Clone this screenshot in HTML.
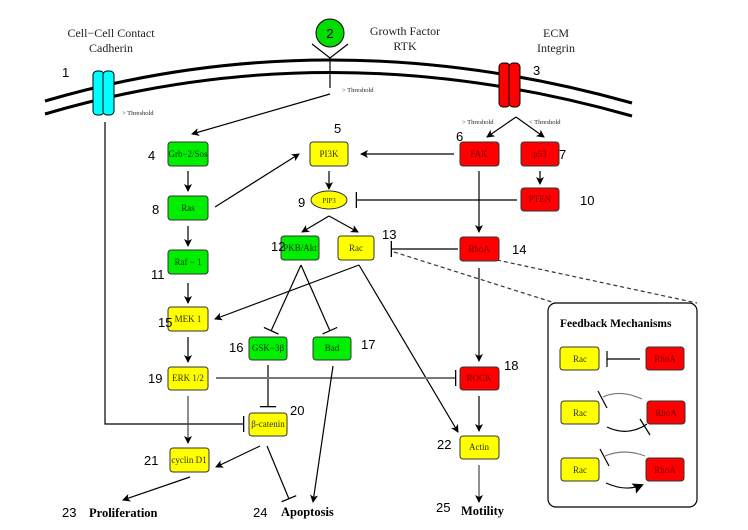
<!DOCTYPE html>
<html><head><meta charset="utf-8"><style>
html,body{margin:0;padding:0;background:#fff;}
svg{display:block;}
.n{font-family:"Liberation Serif",serif;font-size:9px;text-anchor:middle;}
.num{font-family:"Liberation Sans",sans-serif;font-size:13px;}
.lab{font-family:"Liberation Serif",serif;font-size:12px;text-anchor:middle;fill:#222;}
.th{font-family:"Liberation Serif",serif;font-size:6.5px;fill:#223;}
.big{font-family:"Liberation Serif",serif;font-size:12.5px;font-weight:bold;}
</style></head><body>
<svg width="748" height="530" viewBox="0 0 748 530" xmlns="http://www.w3.org/2000/svg">
<defs>
<marker id="a" markerWidth="8" markerHeight="8" refX="7" refY="4" orient="auto" markerUnits="userSpaceOnUse"><path d="M0,0 L8,4 L0,8 L2,4 z" fill="#000"/></marker>
<marker id="a2" markerWidth="11" markerHeight="11" refX="9" refY="5.5" orient="auto" markerUnits="userSpaceOnUse"><path d="M0,0 L11,5.5 L0,11 L2,5.5 z" fill="#000"/></marker>
<marker id="t" markerWidth="2" markerHeight="16" refX="1" refY="8" orient="auto" markerUnits="userSpaceOnUse"><rect x="0" y="0" width="1.3" height="16" fill="#000"/></marker>
<marker id="tg" markerWidth="2" markerHeight="16" refX="1" refY="8" orient="auto" markerUnits="userSpaceOnUse"><rect x="0" y="0" width="1.3" height="16" fill="#000"/></marker>
</defs>
<path d="M45,101 Q330,18 632,103" fill="none" stroke="#000" stroke-width="3"/>
<path d="M45,114 Q330,30 632,116" fill="none" stroke="#000" stroke-width="3"/>
<rect x="93" y="71" width="11" height="44" rx="4" fill="#00ffff" stroke="#000"/>
<rect x="103" y="71" width="11" height="44" rx="4" fill="#00ffff" stroke="#000"/>
<rect x="499" y="63" width="11" height="44" rx="4" fill="#ff0000" stroke="#000"/>
<rect x="509" y="63" width="11" height="44" rx="4" fill="#ff0000" stroke="#000"/>
<circle cx="330" cy="33" r="14" fill="#00dd00" stroke="#000"/>
<text x="330" y="38" class="num" text-anchor="middle">2</text>
<path d="M312,44 L330,58 L348,44 M330,58 L330,88" fill="none" stroke="#000" stroke-width="1.2"/>
<text x="111" y="37" class="lab">Cell−Cell Contact</text>
<text x="111" y="52" class="lab">Cadherin</text>
<text x="405" y="35" class="lab">Growth Factor</text>
<text x="405" y="50" class="lab">RTK</text>
<text x="556" y="37" class="lab">ECM</text>
<text x="556" y="52" class="lab">Integrin</text>
<text x="62" y="77" class="num">1</text>
<text x="533" y="75" class="num">3</text>
<text x="122" y="115" class="th">&gt; Threshold</text>
<text x="342" y="92" class="th">&gt; Threshold</text>
<text x="462" y="124" class="th">&gt; Threshold</text>
<text x="529" y="124" class="th">&lt; Threshold</text>

<g stroke="#000" stroke-width="1.2" fill="none">
<line x1="330" y1="94" x2="192" y2="134" marker-end="url(#a)"/>
<polyline points="105,122 105,424 244,424" marker-end="url(#t)"/>
<line x1="516" y1="117" x2="487" y2="137" marker-end="url(#a)"/>
<line x1="516" y1="117" x2="544" y2="137" marker-end="url(#a)"/>
<line x1="454" y1="154" x2="361" y2="154" marker-end="url(#a)"/>
<line x1="540" y1="171" x2="540" y2="184" marker-end="url(#a)"/>
<line x1="517" y1="200" x2="356" y2="200" marker-end="url(#t)"/>
<line x1="479" y1="171" x2="479" y2="232" marker-end="url(#a)"/>
<line x1="458" y1="249" x2="391" y2="249" marker-end="url(#t)"/>
<line x1="479" y1="268" x2="479" y2="361" marker-end="url(#a)"/>
<line x1="188" y1="171" x2="188" y2="191" marker-end="url(#a)"/>
<line x1="188" y1="226" x2="188" y2="246" marker-end="url(#a)"/>
<line x1="188" y1="283" x2="188" y2="303" marker-end="url(#a)"/>
<line x1="188" y1="337" x2="188" y2="362" marker-end="url(#a)"/>
<line x1="188" y1="396" x2="188" y2="443" marker-end="url(#a)" stroke="#444"/>
<line x1="215" y1="207" x2="299" y2="154" marker-end="url(#a)"/>
<line x1="329" y1="171" x2="329" y2="189" marker-end="url(#a)"/>
<line x1="329" y1="216" x2="302" y2="232" marker-end="url(#a)"/>
<line x1="329" y1="216" x2="358" y2="232" marker-end="url(#a)"/>
<line x1="359" y1="265" x2="215" y2="319" marker-end="url(#a)"/>
<line x1="359" y1="265" x2="458" y2="432" marker-end="url(#a)"/>
<line x1="301" y1="265" x2="271" y2="331" marker-end="url(#t)"/>
<line x1="301" y1="265" x2="330" y2="331" marker-end="url(#t)"/>
<line x1="268" y1="365" x2="268" y2="407" marker-end="url(#t)"/>
<line x1="216" y1="378" x2="456" y2="378" stroke="#777" stroke-width="2" marker-end="url(#tg)"/>
<line x1="260" y1="446" x2="216" y2="467" marker-end="url(#a)"/>
<line x1="267" y1="446" x2="289" y2="499" marker-end="url(#t)"/>
<line x1="333" y1="366" x2="313" y2="502" marker-end="url(#a)"/>
<line x1="190" y1="477" x2="123" y2="500" marker-end="url(#a)"/>
<line x1="479" y1="396" x2="479" y2="431" marker-end="url(#a)"/>
<line x1="479" y1="465" x2="479" y2="502" marker-end="url(#a)" stroke="#444"/>
<line x1="394" y1="252" x2="555" y2="303" stroke-dasharray="4,3" stroke="#333"/>
<line x1="497" y1="260" x2="697" y2="303" stroke-dasharray="4,3" stroke="#333"/>
</g>

<g stroke="#333" stroke-width="1">
<rect x="168" y="142" width="40" height="24" rx="3" fill="#00ee00"/>
<rect x="168" y="196" width="40" height="24" rx="3" fill="#00ee00"/>
<rect x="168" y="250" width="40" height="24" rx="3" fill="#00ee00"/>
<rect x="168" y="307" width="40" height="24" rx="3" fill="#ffff00"/>
<rect x="168" y="367" width="40" height="23" rx="3" fill="#ffff00"/>
<rect x="170" y="448" width="39" height="24" rx="3" fill="#ffff00"/>
<rect x="310" y="142" width="38" height="24" rx="3" fill="#ffff00"/>
<ellipse cx="329" cy="200" rx="18" ry="9" fill="#ffff00"/>
<rect x="281" y="236" width="38" height="24" rx="3" fill="#00ee00"/>
<rect x="338" y="236" width="36" height="24" rx="3" fill="#ffff00"/>
<rect x="249" y="337" width="38" height="23" rx="3" fill="#00ee00"/>
<rect x="313" y="337" width="38" height="23" rx="3" fill="#00ee00"/>
<rect x="249" y="413" width="38" height="23" rx="3" fill="#ffff00"/>
<rect x="460" y="142" width="39" height="24" rx="3" fill="#ff0000"/>
<rect x="521" y="142" width="38" height="24" rx="3" fill="#ff0000"/>
<rect x="521" y="188" width="38" height="23" rx="3" fill="#ff0000"/>
<rect x="460" y="237" width="39" height="24" rx="3" fill="#ff0000"/>
<rect x="460" y="367" width="39" height="23" rx="3" fill="#ff0000"/>
<rect x="460" y="436" width="39" height="23" rx="3" fill="#ffff00"/>
</g>
<g class="n">
<text x="188" y="157" fill="#030">Grb−2/Sos</text>
<text x="188" y="211" fill="#030">Ras</text>
<text x="188" y="265" fill="#030">Raf − 1</text>
<text x="188" y="322" fill="#330">MEK 1</text>
<text x="188" y="381" fill="#330">ERK 1/2</text>
<text x="189" y="463" fill="#330">cyclin D1</text>
<text x="329" y="157" fill="#330">PI3K</text>
<text x="329" y="203" fill="#330" style="font-size:7px">PIP3</text>
<text x="300" y="251" fill="#030">PKB/Akt</text>
<text x="356" y="251" fill="#330">Rac</text>
<text x="268" y="351" fill="#030">GSK−3β</text>
<text x="332" y="351" fill="#030">Bad</text>
<text x="268" y="427" fill="#330">β-catenin</text>
<text x="479" y="157" fill="#700">FAK</text>
<text x="540" y="157" fill="#700">p53</text>
<text x="540" y="202" fill="#700">PTEN</text>
<text x="479" y="252" fill="#700">RhoA</text>
<text x="479" y="381" fill="#700">ROCK</text>
<text x="479" y="450" fill="#330">Actin</text>
</g>
<g class="num">
<text x="148" y="160">4</text><text x="334" y="133">5</text><text x="456" y="141">6</text>
<text x="559" y="159">7</text><text x="152" y="214">8</text><text x="298" y="207">9</text>
<text x="580" y="205">10</text><text x="151" y="279">11</text><text x="271" y="251">12</text>
<text x="382" y="239">13</text><text x="512" y="254">14</text><text x="158" y="327">15</text>
<text x="229" y="352">16</text><text x="361" y="349">17</text><text x="504" y="370">18</text>
<text x="148" y="383">19</text><text x="290" y="415">20</text><text x="144" y="465">21</text>
<text x="437" y="449">22</text><text x="62" y="517">23</text><text x="253" y="517">24</text>
<text x="436" y="512">25</text>
</g>
<text x="89" y="517" class="big">Proliferation</text>
<text x="281" y="516" class="big">Apoptosis</text>
<text x="461" y="515" class="big">Motility</text>

<rect x="548" y="303" width="149" height="204" rx="8" fill="#fff" stroke="#000" stroke-width="1.2"/>
<text x="560" y="327" class="big" style="font-size:11.5px">Feedback Mechanisms</text>
<g stroke="#333" stroke-width="1">
<rect x="560" y="347" width="39" height="23" rx="3" fill="#ffff00"/>
<rect x="646" y="347" width="38" height="23" rx="3" fill="#ff0000"/>
<rect x="561" y="401" width="38" height="23" rx="3" fill="#ffff00"/>
<rect x="647" y="401" width="38" height="23" rx="3" fill="#ff0000"/>
<rect x="561" y="458" width="38" height="23" rx="3" fill="#ffff00"/>
<rect x="646" y="458" width="38" height="23" rx="3" fill="#ff0000"/>
</g>
<g class="n">
<text x="580" y="362" fill="#330">Rac</text><text x="665" y="362" fill="#700">RhoA</text>
<text x="580" y="416" fill="#330">Rac</text><text x="666" y="416" fill="#700">RhoA</text>
<text x="580" y="473" fill="#330">Rac</text><text x="665" y="473" fill="#700">RhoA</text>
</g>
<g fill="none" stroke="#000" stroke-width="1.2">
<line x1="640" y1="359" x2="607" y2="359"/><line x1="607" y1="351" x2="607" y2="367"/>
<path d="M642,399 Q620,389 603,397" stroke="#777"/><line x1="598" y1="391" x2="607" y2="408"/>
<path d="M607,427 Q628,437 647,424"/><line x1="640" y1="419" x2="650" y2="435"/>
<path d="M645,456 Q624,448 605,456" stroke="#777"/><line x1="600" y1="449" x2="609" y2="466"/>
<path d="M606,483 Q626,492 642,485" marker-end="url(#a2)"/>
</g>
</svg>
</body></html>
